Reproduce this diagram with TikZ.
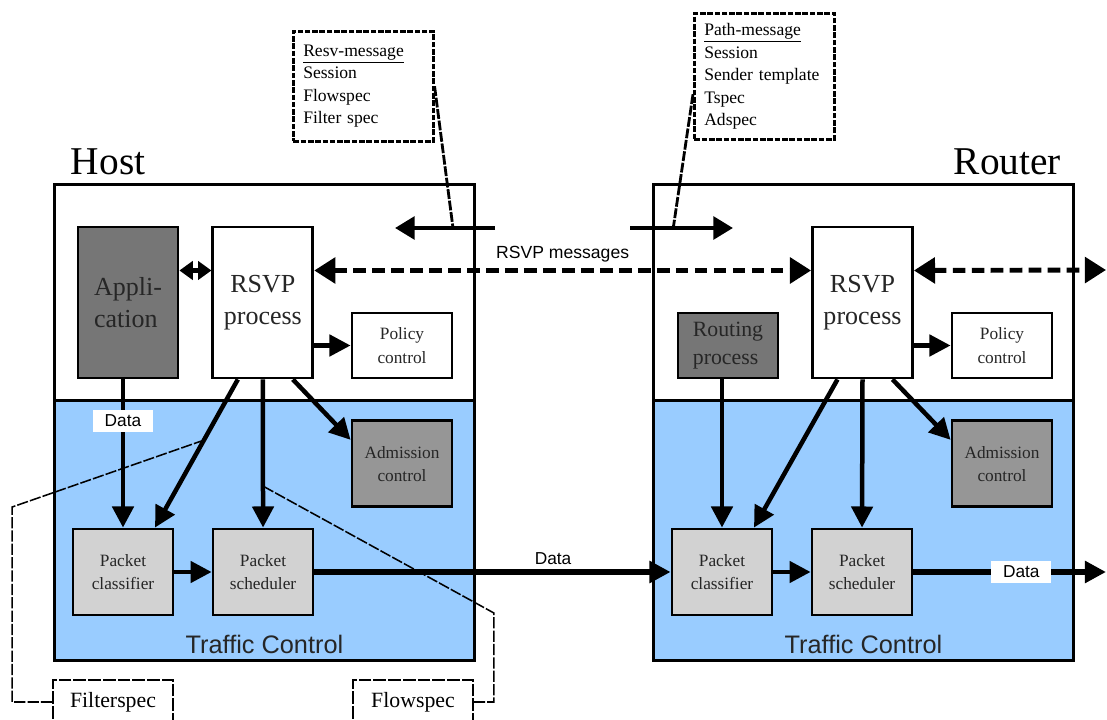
\documentclass[tikz,border=0pt]{standalone}
\usepackage{fontspec}
\setmainfont{Liberation Serif}
\setsansfont{Liberation Sans}
\usetikzlibrary{arrows.meta, positioning}

\definecolor{tcblue}{RGB}{153,204,255}
\definecolor{darkgraybox}{RGB}{118,118,118}
\definecolor{midgraybox}{RGB}{150,150,150}
\definecolor{lightgraybox}{RGB}{210,210,210}

\begin{document}
\begin{tikzpicture}[
    x=0.025cm, y=-0.025cm,
    area/.style={draw, line width=2pt, anchor=north west, inner sep=0pt, minimum width=10.5cm},
    block/.style={draw, line width=2pt, minimum width=2.5cm, align=center, inner sep=1pt, text=black!85},
    bigblock/.style={block, minimum height=3.775cm, font=\fontsize{18.5}{23}\selectfont},
    ctrlblock/.style={block, font=\fontsize{12.3}{16.5}\selectfont},
    pktblock/.style={block, fill=lightgraybox, minimum height=2.15cm, font=\fontsize{12.3}{16.4}\selectfont},
    msgbox/.style={draw, line width=1.8pt, dash pattern=on 4pt off 1.2pt, anchor=north west, align=left, text width=3cm, inner xsep=0.25cm, font=\fontsize{12.5}{16}\selectfont},
    specbox/.style={draw, line width=1.2pt, dash pattern=on 9pt off 1.5pt, minimum width=3cm, minimum height=1.1cm, font=\fontsize{15.5}{18}\selectfont},
    call/.style={-{Triangle[length=15pt, width=15pt]}, line width=3.2pt},
    datacall/.style={call, line width=3.8pt},
    twowaycall/.style={{Triangle[length=9.5pt, width=13pt]}-{Triangle[length=9.5pt, width=13pt]}, line width=3.2pt},
    msgcall/.style={{Triangle[length=15pt, width=18pt]}-{Triangle[length=15pt, width=18pt]}, line width=3.5pt, dash pattern=on 9pt off 4.5pt},
    leader/.style={line width=2pt, dash pattern=on 7pt off 1.2pt},
    specline/.style={line width=1.1pt, dash pattern=on 8pt off 1.5pt},
    datalabel/.style={fill=white, inner sep=0pt, minimum width=1.5cm, minimum height=0.57cm, font=\sffamily\fontsize{12.3}{14}\selectfont},
    title/.style={font=\fontsize{28}{30}\selectfont},
    tclabel/.style={anchor=base, font=\sffamily\fontsize{18}{20}\selectfont, text=black!85}
]
    \useasboundingbox (0,0) rectangle (1107,720);
    \clip (0,0) rectangle (1107,720);

    % Host and Router frames
    \node[area, fill=white, minimum height=5.4cm] (hosttop) at (53,183) {};
    \node[area, fill=tcblue, minimum height=6.5cm] (hostbot) at (53,399) {};
    \node[area, fill=white, minimum height=5.4cm] (routertop) at (652,183) {};
    \node[area, fill=tcblue, minimum height=6.5cm] (routerbot) at (652,399) {};
    \node[title, anchor=base west] (hostname) at (66,175) {Host};
    \node[title, anchor=base east] (routername) at (1066,175) {Router};
    \node[tclabel] (hosttc) at ([yshift=0.2cm]hostbot.south) {Traffic Control};
    \node[tclabel] (routertc) at ([yshift=0.2cm]routerbot.south) {Traffic Control};

    % Host blocks
    \node[bigblock, fill=darkgraybox, align=left] (app) at (128,302.5) {Appli-\\cation};
    \node[bigblock, fill=white, right=0.8cm of app] (hrsvp) {RSVP\\process};
    \node[ctrlblock, fill=white, minimum height=1.625cm] (hpolicy) at (402,345.5) {Policy\\control};
    \node[ctrlblock, fill=midgraybox, minimum height=2.15cm, below=1cm of hpolicy] (hadmit) {Admission\\control};
    \node[pktblock] (hclass) at (123,572) {Packet\\classifier};
    \node[pktblock, right=0.93cm of hclass] (hsched) {Packet\\scheduler};

    % Router blocks
    \node[ctrlblock, fill=darkgraybox, align=left, minimum height=1.625cm, font=\fontsize{15.5}{20}\selectfont] (rrouting) at (728,345.5) {Routing\\process};
    \node[bigblock, fill=white] (rrsvp) at (862.5,302.5) {RSVP\\process};
    \node[ctrlblock, fill=white, minimum height=1.625cm] (rpolicy) at (1002,345.5) {Policy\\control};
    \node[ctrlblock, fill=midgraybox, minimum height=2.15cm, below=1cm of rpolicy] (radmit) {Admission\\control};
    \node[pktblock] (rclass) at (722,572) {Packet\\classifier};
    \node[pktblock, right=0.93cm of rclass] (rsched) {Packet\\scheduler};

    % Message contents
    \node[msgbox, minimum height=2.75cm] (resvmsg) at (292,30) {\underline{Resv-message}\\Session\\Flowspec\\Filter spec};
    \node[msgbox, minimum height=3.15cm] (pathmsg) at (693,12) {\underline{Path-message}\\Session\\Sender template\\Tspec\\Adspec};
    \node[specbox] (filtspec) at (113,702) {Filterspec};
    \node[specbox] (flowspec) at (413,702) {Flowspec};

    % Free ends
    \coordinate (resvfrom) at (495,228);
    \coordinate (resvto) at (395,228);
    \coordinate (pathfrom) at (630,228);
    \coordinate (pathto) at (733,228);
    \coordinate (msgout) at (1106,270);
    \coordinate (dataout) at (1106,572);

    % Host connections
    \draw[twowaycall] ([yshift=0.8cm]app.east) -- ([yshift=0.8cm]hrsvp.west);
    \draw[call] (hclass.north |- app.south) -- node[datalabel, pos=0.28] (dataleft) {Data} (hclass.north);
    \draw[call] ([xshift=-0.625cm]hrsvp.south) -- coordinate[pos=0.41] (hfilt) ([xshift=0.8cm]hclass.north);
    \draw[call] (hrsvp.south) -- coordinate[pos=0.72] (hflow) (hsched.north);
    \draw[call] ([xshift=0.75cm]hrsvp.south) -- ([yshift=0.6cm]hadmit.west);
    \draw[call] (hrsvp.east |- hpolicy.west) -- (hpolicy.west);
    \draw[call] (hclass) -- (hsched);

    % Router connections
    \draw[call] (rclass.north |- rrouting.south) -- (rclass.north);
    \draw[call] ([xshift=-0.625cm]rrsvp.south) -- ([xshift=0.8cm]rclass.north);
    \draw[call] (rrsvp.south) -- (rsched.north);
    \draw[call] ([xshift=0.75cm]rrsvp.south) -- ([yshift=0.6cm]radmit.west);
    \draw[call] (rrsvp.east |- rpolicy.west) -- (rpolicy.west);
    \draw[call] (rclass) -- (rsched);

    % Data path
    \draw[datacall] (hsched) -- node[above, pos=0.67, font=\sffamily\fontsize{12.3}{14}\selectfont] (datamid) {Data} (rclass);
    \draw[datacall] (rsched) -- node[datalabel, pos=0.56] (dataright) {Data} (dataout);

    % RSVP messages
    \draw[msgcall] ([yshift=0.8cm]hrsvp.east) -- node[above=0.15cm, inner sep=0pt, font=\sffamily\fontsize{12.5}{14}\selectfont] (msglabel) {RSVP messages} ([yshift=0.8cm]rrsvp.west);
    \draw[msgcall] ([yshift=0.8cm]rrsvp.east) -- (msgout);
    \draw[call, -{Triangle[length=14pt, width=16pt]}] (resvfrom) -- coordinate[pos=0.42] (resvfoot) (resvto);
    \draw[call, -{Triangle[length=14pt, width=16pt]}] (pathfrom) -- coordinate[pos=0.42] (pathfoot) (pathto);
    \draw[leader] (resvmsg.east) -- (resvfoot);
    \draw[leader] ([yshift=-0.45cm]pathmsg.west) -- (pathfoot);

    % Spec leaders
    \draw[specline] (filtspec.west) -- ++(-40,0) -- ++(0,-195) -- (hfilt);
    \draw[specline] (flowspec.east) -- ++(20,0) -- ++(0,-89) -- (hflow);
\end{tikzpicture}
\end{document}
